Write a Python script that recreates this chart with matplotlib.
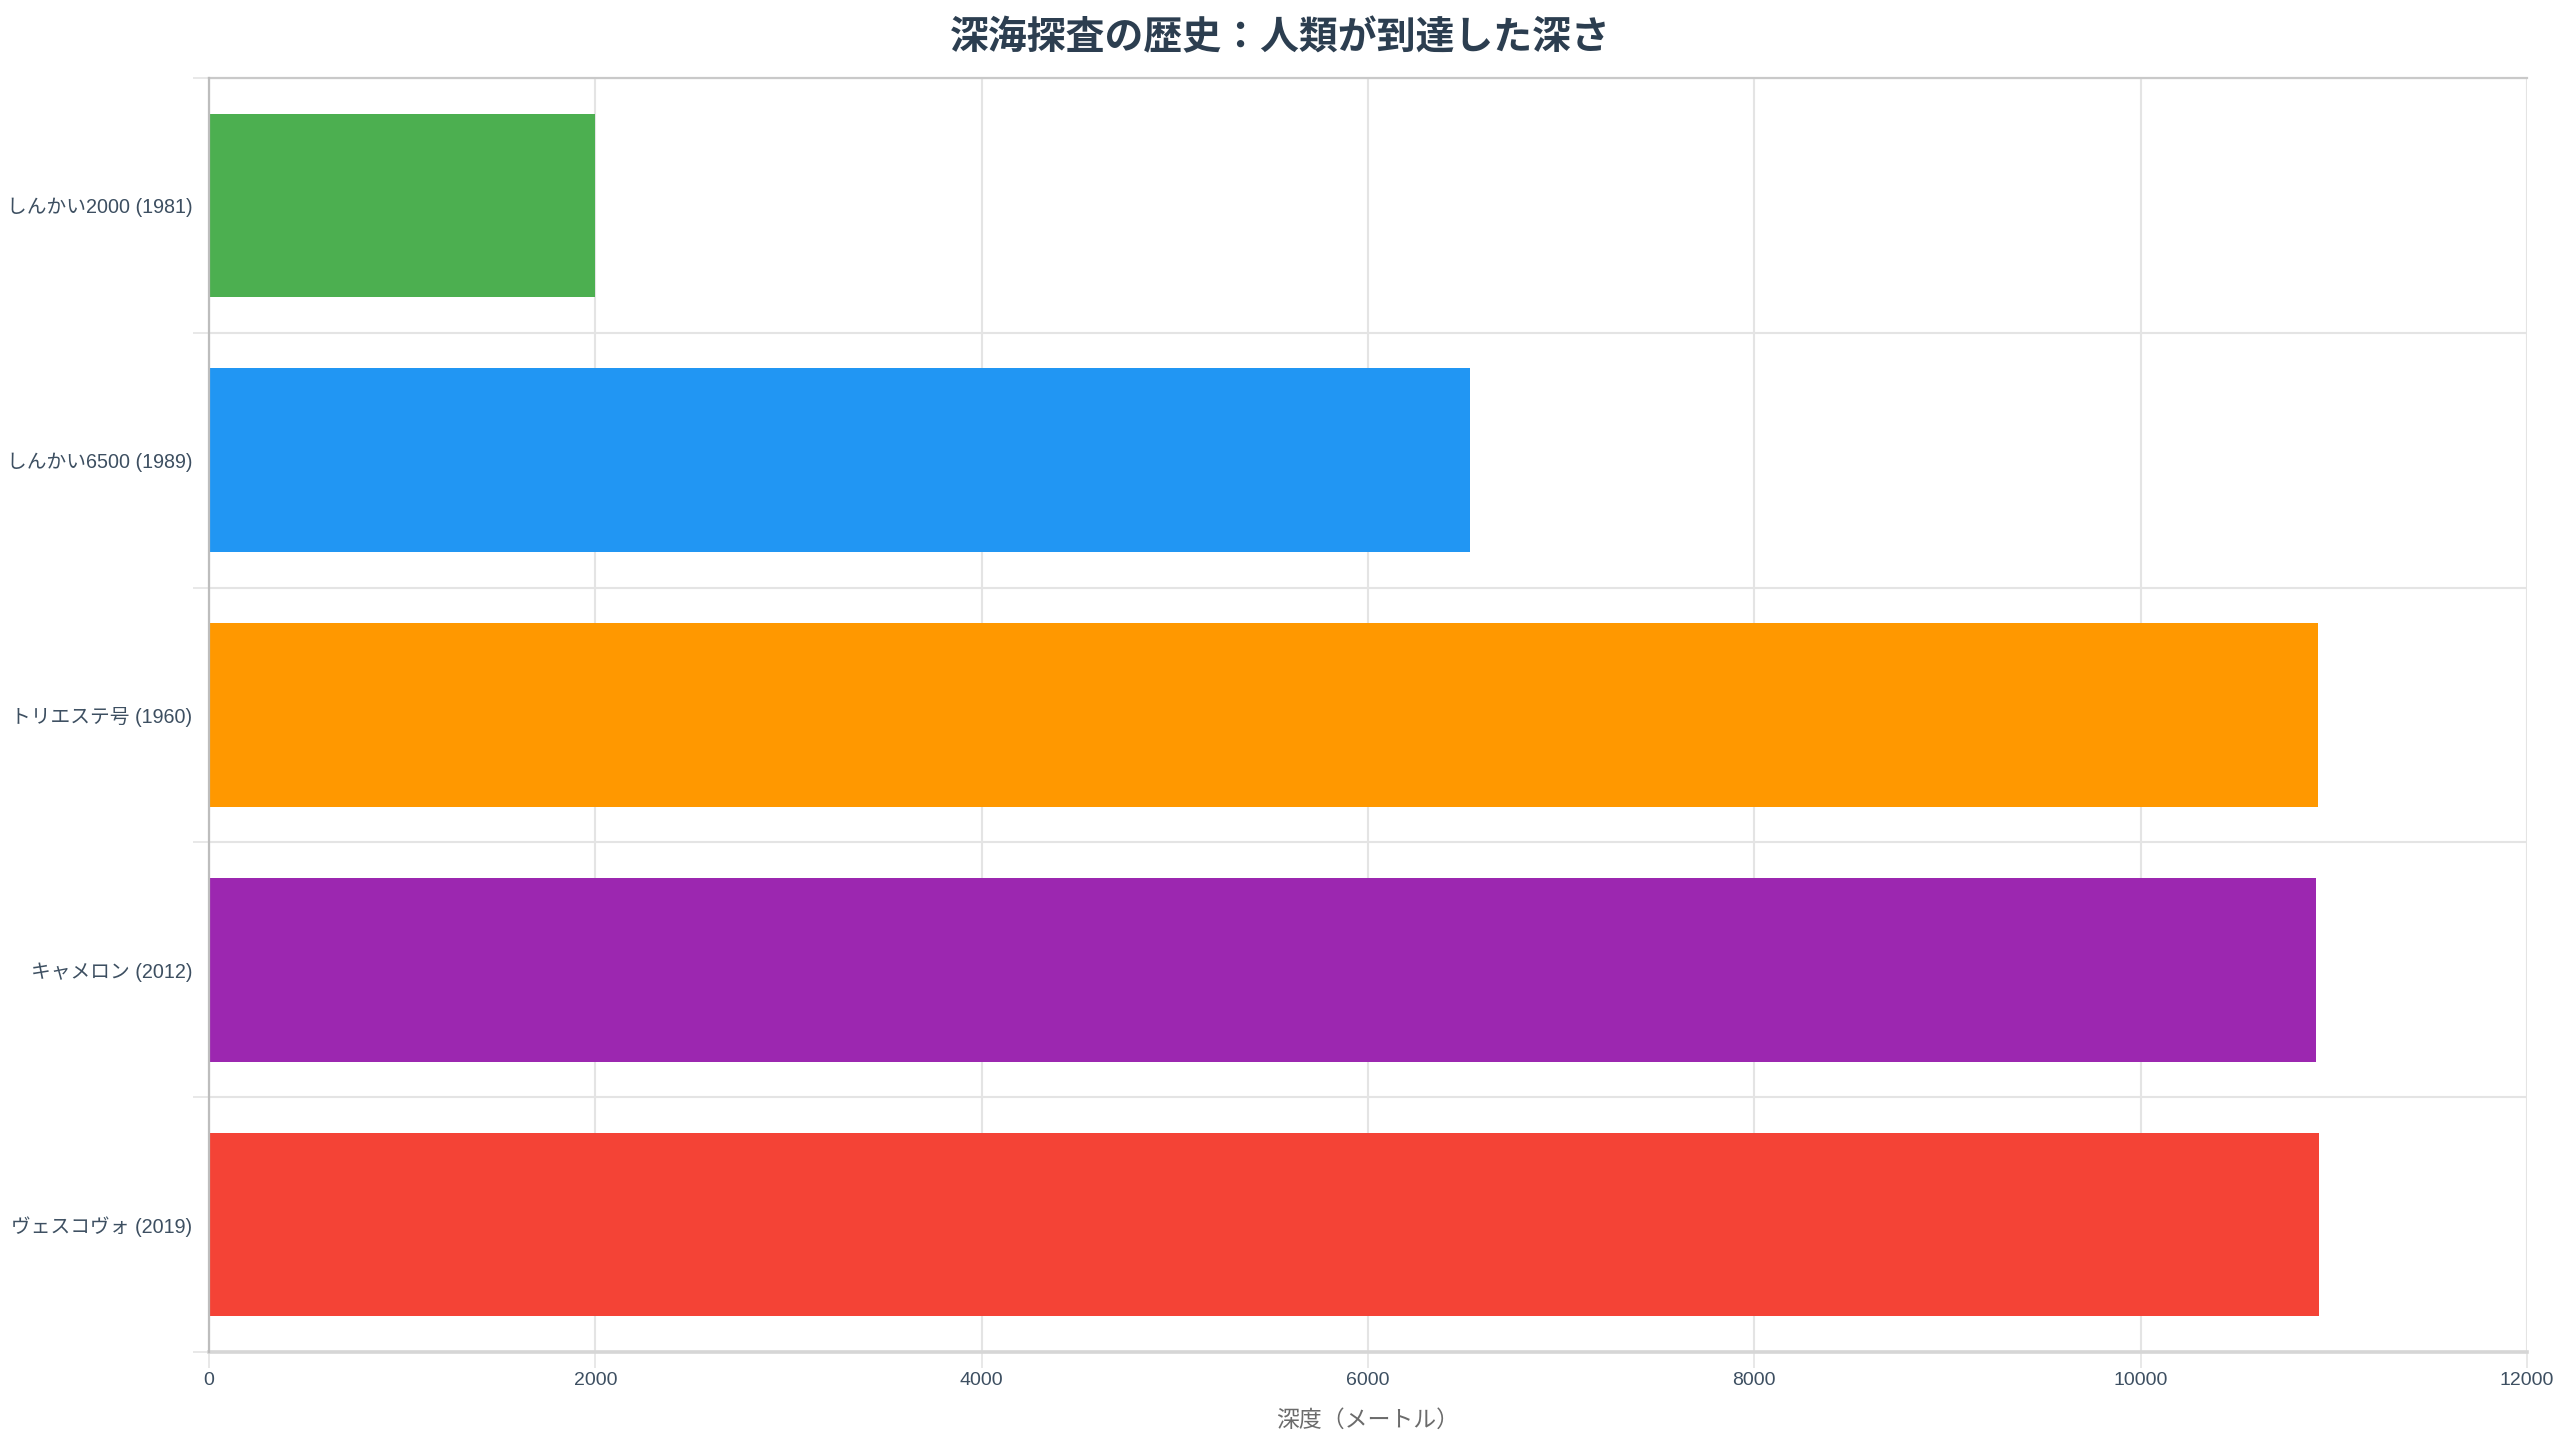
import matplotlib
matplotlib.use("Agg")
import matplotlib.pyplot as plt
import numpy as np

categories = ["しんかい2000 (1981)", "しんかい6500 (1989)", "トリエステ号 (1960)", "キャメロン (2012)", "ヴェスコヴォ (2019)"]
depths = [2000, 6527, 10916, 10908, 10925]
colors = ["#4CAF50", "#2196F3", "#FF9800", "#9C27B0", "#F44336"]
x_ticks = [0, 2000, 4000, 6000, 8000, 10000, 12000]
title = "深海探査の歴史：人類が到達した深さ"
xlabel = "深度（メートル）"

FAM = ["Liberation Sans", "Noto Sans CJK JP", "DejaVu Sans"]
plt.rcParams["font.family"] = FAM

fig = plt.figure(figsize=(25.6, 14.4), dpi=100)
ax = fig.add_axes([209 / 2560, 1 - 1352 / 1440, (2527 - 209) / 2560, (1352 - 78) / 1440])

y = np.arange(len(categories))
ax.barh(y, depths, height=0.72, color=colors, zorder=3)

ax.set_xlim(0, 12000)
ax.set_ylim(len(categories) - 0.5, -0.5)

grid_c = "#e4e4e4"
ax.set_xticks(x_ticks)
ax.set_xticklabels([str(t) for t in x_ticks])
ax.set_yticks(y)
ax.set_yticklabels(categories)
ax.set_yticks(np.arange(len(categories) + 1) - 0.5, minor=True)

ax.grid(True, axis="x", which="major", color=grid_c, linewidth=1.5, zorder=0)
ax.grid(True, axis="y", which="minor", color=grid_c, linewidth=1.5, zorder=0)
ax.grid(False, axis="y", which="major")

ax.tick_params(axis="x", which="major", direction="out", length=11.5, width=1.2,
               color=grid_c, labelsize=14, labelcolor="#3d4f61", pad=3)
ax.tick_params(axis="y", which="major", length=0, labelsize=14.2,
               labelcolor="#3d4f61", pad=12)
ax.tick_params(axis="y", which="minor", direction="out", length=11.5, width=1.2,
               color=grid_c)

ax.spines["right"].set_visible(False)
ax.spines["top"].set_color("#c9c9c9")
ax.spines["top"].set_linewidth(1.6)
ax.spines["left"].set_color("#bdbdbd")
ax.spines["left"].set_linewidth(1.6)
ax.spines["bottom"].set_color("#d6d6d6")
ax.spines["bottom"].set_linewidth(2.6)
ax.spines["left"].set_zorder(4)

ax.set_xlabel(xlabel, fontsize=16.5, color="#6b6b6b", labelpad=14,
              family=["Noto Sans CJK JP", "DejaVu Sans"])

fig.text(0.5, 1 - 38 / 1440, title, ha="center", va="center",
         fontsize=28, fontweight="bold", color="#2c3e50",
         family=["Noto Sans CJK JP", "DejaVu Sans"])

fig.savefig("out.png", dpi=100, facecolor="white")
